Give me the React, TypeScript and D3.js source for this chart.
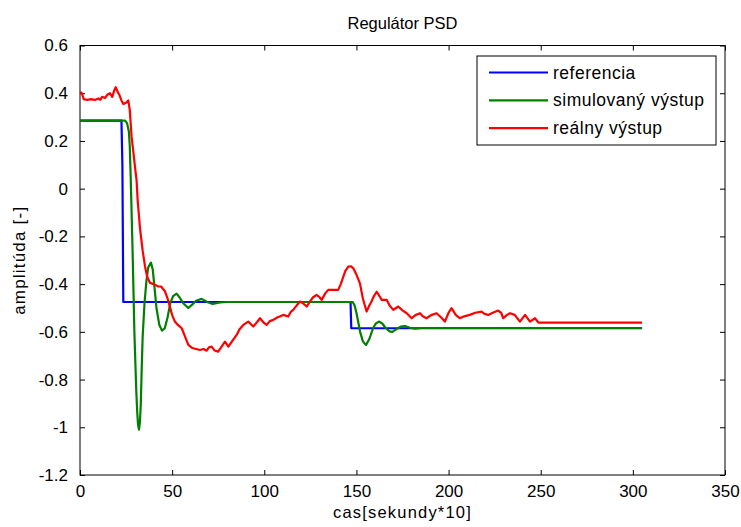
import React, { useEffect, useRef } from "react";
import { select, scaleLinear, line, axisBottom, axisLeft, axisTop, axisRight } from "d3";

const xTicks = [0, 50, 100, 150, 200, 250, 300, 350];
const yTicks = [-1.2, -1, -0.8, -0.6, -0.4, -0.2, 0, 0.2, 0.4, 0.6];

const seriesNames = ["referencia", "simulovaný výstup", "reálny výstup"];
const seriesColors = ["#0000ff", "#008000", "#ff0000"];

// referencia
const referencia: [number, number][] = [
    [0, 0.285], [22.5, 0.285], [23, 0.1], [23.5, -0.475],
    [146.8, -0.475], [147.2, -0.585], [305, -0.585],
];

// simulovany vystup
const simulovany: [number, number][] = [
    [0, 0.285], [24.5, 0.285], [25.5, 0.275], [26.5, 0.24], [27, 0.18], [27.5, 0.05],
    [28, -0.1], [28.5, -0.25], [29, -0.42], [29.5, -0.6], [30, -0.72], [30.5, -0.84],
    [31, -0.93], [31.5, -0.99], [32, -1.01], [32.5, -0.98], [33, -0.9], [33.5, -0.75],
    [34, -0.62], [35, -0.48], [36, -0.39], [37, -0.33], [38.5, -0.31], [39.5, -0.34],
    [40.5, -0.42], [41.5, -0.5], [43, -0.57], [44.5, -0.595], [46, -0.585], [47.5, -0.54],
    [49, -0.48], [50.5, -0.45], [52.4, -0.44], [54, -0.455], [56, -0.48], [58.8, -0.5],
    [61, -0.485], [63, -0.47], [66, -0.462], [69, -0.475], [72, -0.483], [76, -0.477],
    [80, -0.475], [148, -0.475], [149, -0.49], [150, -0.52], [152, -0.6], [153.5, -0.64],
    [155.2, -0.655], [157, -0.63], [159, -0.585], [160.5, -0.565], [162.2, -0.557],
    [164, -0.565], [166, -0.585], [168, -0.598], [169.5, -0.6], [171.5, -0.59],
    [174, -0.578], [176.3, -0.576], [179, -0.583], [182, -0.587], [185, -0.584], [305, -0.584],
];

// realny vystup
const realny: [number, number][] = [
    [0, 0.405], [1, 0.4], [2, 0.375], [4, 0.372], [6, 0.375], [8, 0.372], [10, 0.378],
    [11, 0.372], [12, 0.385], [13.5, 0.38], [15, 0.395], [16.3, 0.4], [17.5, 0.385],
    [18.5, 0.41], [19.4, 0.425], [20.5, 0.405], [21.5, 0.39], [22.5, 0.37], [23.5, 0.355],
    [25, 0.36], [26.2, 0.37], [27, 0.33], [28, 0.218], [29, 0.15], [30, 0.08], [30.7, 0.036],
    [31.3, -0.05], [32.6, -0.17], [34, -0.26], [35.3, -0.327], [36.5, -0.37], [38, -0.395],
    [40, -0.4], [42.5, -0.41], [44, -0.41], [46.1, -0.43], [47.5, -0.46], [48.8, -0.495],
    [50, -0.53], [51.5, -0.557], [53, -0.57], [55.2, -0.585], [57, -0.62], [58.8, -0.655],
    [61, -0.668], [63, -0.672], [65.1, -0.676], [67, -0.672], [68.7, -0.679], [70, -0.665],
    [71.4, -0.662], [73, -0.678], [75, -0.683], [77, -0.66], [78.7, -0.641], [80.5, -0.662],
    [82.5, -0.64], [85, -0.613], [86.5, -0.59], [88.6, -0.571], [91.3, -0.557], [94, -0.578],
    [96, -0.56], [97.7, -0.543], [99.5, -0.56], [101.3, -0.571], [103, -0.555], [104.9, -0.55],
    [107, -0.54], [110.3, -0.529], [113, -0.536], [114.5, -0.515], [115.7, -0.508],
    [117.5, -0.49], [119.4, -0.473], [121, -0.48], [123, -0.494], [125, -0.47], [126.5, -0.455],
    [128.4, -0.445], [130, -0.455], [131.1, -0.466], [133, -0.44], [134.7, -0.424],
    [137, -0.424], [140.1, -0.424], [141.5, -0.4], [142.9, -0.369], [144, -0.345],
    [145.6, -0.327], [147, -0.325], [148.3, -0.334], [150, -0.36], [151.9, -0.397],
    [153.5, -0.46], [155.5, -0.515], [157, -0.49], [158.2, -0.473], [159.5, -0.45],
    [161, -0.432], [162.5, -0.45], [163.7, -0.466], [166.4, -0.466], [168, -0.49],
    [170, -0.508], [171.5, -0.5], [172.7, -0.494], [175, -0.51], [177.3, -0.522],
    [180, -0.543], [182, -0.53], [184.5, -0.522], [186, -0.535], [188, -0.543],
    [190.5, -0.53], [193.5, -0.522], [196, -0.54], [198, -0.557], [200, -0.52],
    [201.6, -0.501], [204, -0.53], [206.1, -0.543], [208.5, -0.535], [211.5, -0.529],
    [214.5, -0.52], [217.9, -0.515], [219.5, -0.525], [221.5, -0.529], [224, -0.52],
    [226.9, -0.511], [228.5, -0.52], [229.7, -0.543], [231.5, -0.53], [233.3, -0.522],
    [235.9, -0.529], [238.7, -0.557], [241.5, -0.529], [244.2, -0.557], [246.9, -0.543],
    [248.7, -0.561], [305, -0.561],
];

const W = 741;
const H = 527;
const FONT = "'Liberation Sans', Arial, sans-serif";

function Chart() {
    const ref = useRef<SVGSVGElement>(null);

    useEffect(() => {
        const svg = select(ref.current);
        svg.selectAll("*").remove();

        const left = 80, right = 725, top = 45.5, bottom = 475;
        const x = scaleLinear().domain([0, 350]).range([left, right]);
        const y = scaleLinear().domain([-1.2, 0.6]).range([bottom, top]);

        svg.append("rect").attr("width", W).attr("height", H).attr("fill", "#fff");

        // axes, matlab style: ticks inside, box on
        const styleAxis = (g: any, labels: boolean) => {
            g.select(".domain").remove();
            g.selectAll("line").attr("stroke", "#000");
            g.selectAll("text")
                .attr("fill", labels ? "#000" : "none")
                .style("font-family", FONT)
                .style("font-size", "17px");
        };

        svg.append("g")
            .attr("transform", `translate(0,${bottom})`)
            .call(axisBottom(x).tickValues(xTicks).tickSize(-5).tickPadding(10).tickFormat((d: any) => String(d)))
            .call((g: any) => styleAxis(g, true));
        svg.append("g")
            .attr("transform", `translate(0,${top})`)
            .call(axisTop(x).tickValues(xTicks).tickSize(-5).tickFormat(() => ""))
            .call((g: any) => styleAxis(g, false));
        svg.append("g")
            .attr("transform", `translate(${left},0)`)
            .call(axisLeft(y).tickValues(yTicks).tickSize(-5).tickPadding(12).tickFormat((d: any) => String(Math.round(d * 10) / 10)))
            .call((g: any) => styleAxis(g, true));
        svg.append("g")
            .attr("transform", `translate(${right},0)`)
            .call(axisRight(y).tickValues(yTicks).tickSize(-5).tickFormat(() => ""))
            .call((g: any) => styleAxis(g, false));

        svg.append("rect")
            .attr("x", left).attr("y", top)
            .attr("width", right - left).attr("height", bottom - top)
            .attr("fill", "none").attr("stroke", "#000").attr("stroke-width", 1);

        const path = line<[number, number]>().x(d => x(d[0])).y(d => y(d[1]));
        [referencia, simulovany, realny].forEach((data, i) => {
            svg.append("path")
                .attr("d", path(data))
                .attr("fill", "none")
                .attr("stroke", seriesColors[i])
                .attr("stroke-width", 2.2)
                .attr("stroke-linejoin", "round");
        });

        // title and labels
        svg.append("text")
            .attr("x", (left + right) / 2).attr("y", 29)
            .attr("text-anchor", "middle")
            .style("font-family", FONT).style("font-size", "16.5px")
            .text("Regulátor PSD");
        svg.append("text")
            .attr("x", (left + right) / 2).attr("y", 518)
            .attr("text-anchor", "middle")
            .style("font-family", FONT).style("font-size", "16.5px").style("letter-spacing", "1.2px")
            .text("cas[sekundy*10]");
        svg.append("text")
            .attr("transform", `translate(25,${(top + bottom) / 2}) rotate(-90)`)
            .attr("text-anchor", "middle")
            .style("font-family", FONT).style("font-size", "17px").style("letter-spacing", "1.2px")
            .text("amplitúda [-]");

        // legend
        const lg = svg.append("g");
        lg.append("rect")
            .attr("x", 477).attr("y", 56).attr("width", 239).attr("height", 89)
            .attr("fill", "#fff").attr("stroke", "#000");
        seriesNames.forEach((name, i) => {
            const ly = 72.5 + i * 27.8;
            lg.append("line")
                .attr("x1", 489).attr("x2", 548).attr("y1", ly).attr("y2", ly)
                .attr("stroke", seriesColors[i]).attr("stroke-width", 2.2);
            lg.append("text")
                .attr("x", 553).attr("y", ly).attr("dy", "0.35em")
                .style("font-family", FONT).style("font-size", "17.5px").style("letter-spacing", "0.5px")
                .text(name);
        });
    }, []);

    return <svg ref={ref} width={W} height={H} style={{ position: "absolute", left: 0, top: 0 }} />;
}

export default function App() {
    return <Chart />;
}
